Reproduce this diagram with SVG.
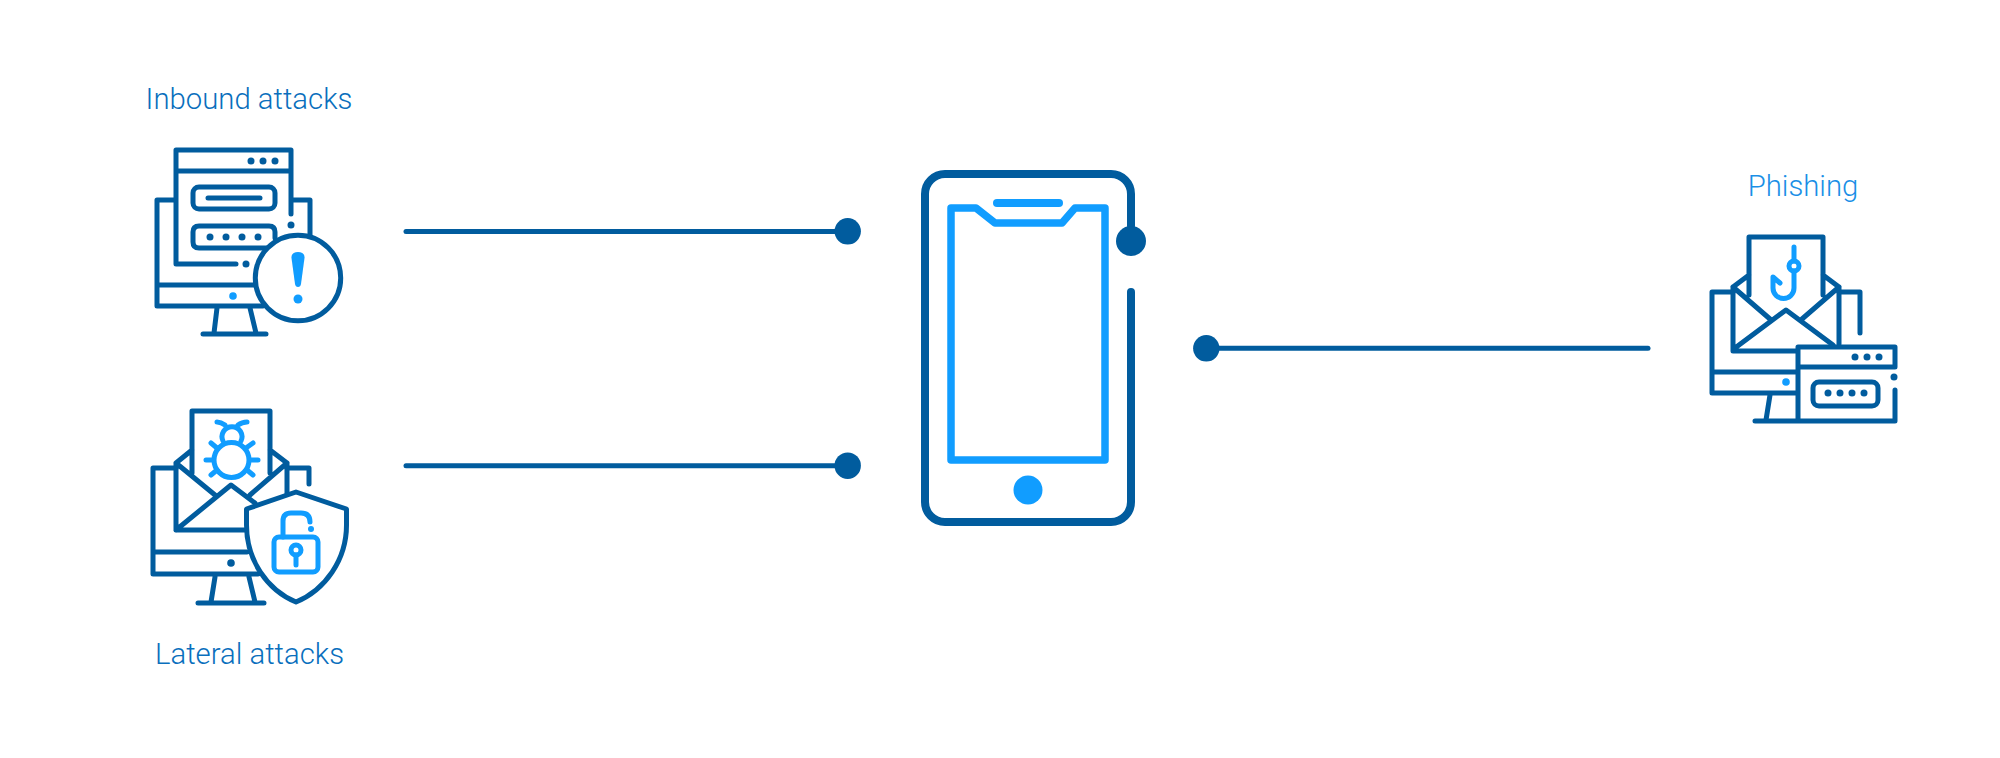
<svg xmlns="http://www.w3.org/2000/svg" width="2000" height="758" viewBox="0 0 2000 758">
<style>
.d{fill:none;stroke:#015c9e;stroke-width:5;stroke-linecap:round;stroke-linejoin:round}
.l{fill:none;stroke:#119dff;stroke-width:5;stroke-linecap:round;stroke-linejoin:round}
.df{fill:#015c9e}.lf{fill:#119dff}
text{font-family:Roboto,"Liberation Sans",sans-serif;font-weight:300;font-size:29.300px;text-anchor:middle}
.conn{fill:none;stroke:#015c9e;stroke-width:5;stroke-linecap:round}
</style>
<rect width="2000" height="758" fill="#fff"/>
<g id="connectors">
<path class="conn" d="M406 231.500H847"/><circle class="df" cx="847.700" cy="231.300" r="13.200"/>
<path class="conn" d="M406 465.700H847"/><circle class="df" cx="847.700" cy="465.700" r="13.200"/>
<path class="conn" d="M1207 348.300H1648"/><circle class="df" cx="1206.300" cy="348.300" r="13.200"/>
</g>
<g id="inbound">
<text x="249" y="109" fill="#0a6fbd">Inbound attacks</text>
<path class="d" d="M291 214V150H176V264H236M176 171H291M176 200H157V306H263M157 285H256M291 200H310V235M217 308L214 333M250 308L256 333M203 334H266"/>
<rect class="d" x="193" y="187" width="82" height="22" rx="6"/>
<path class="d" d="M208 198H260M270 248H199Q193 248 193 242V232Q193 226 199 226H269Q275 226 275 232V238"/>
<g class="df"><circle cx="251" cy="161" r="3.500"/><circle cx="263" cy="161" r="3.500"/><circle cx="275" cy="161" r="3.500"/><circle cx="291" cy="225" r="3.500"/><circle cx="246" cy="264" r="3.500"/><circle cx="210" cy="237" r="3.500"/><circle cx="226" cy="237" r="3.500"/><circle cx="242" cy="237" r="3.500"/><circle cx="258" cy="237" r="3.500"/></g>
<circle class="lf" cx="233" cy="296" r="3.800"/>
<circle cx="298" cy="278" r="42.700" fill="#fff" stroke="#015c9e" stroke-width="5"/>
<path class="lf" d="M298 252C302 252 305 254 304.500 258L301 284Q300.500 287 298 287Q295.500 287 295 284L291.500 258C291 254 294 252 298 252Z"/>
<circle class="lf" cx="298" cy="299" r="4.500"/>
</g>
<g id="lateral">
<text x="249.500" y="664" fill="#0a6fbd">Lateral attacks</text>
<path class="d" d="M176 468H153V574H258M153 552H247M287 468H309V484M215 577L211 602M249 577L255 602M198 603H264"/>
<path class="d" d="M192 473V411H270V473M192 450L176 463V530H245M270 450L287 463V495M176 463L215 495M287 463L250 495M176 530L231 485L255 503"/>
<circle class="df" cx="231" cy="563" r="3.800"/>
<path d="M296 492L346.500 509V525C346.500 560 325 590 296 602C267 590 246.500 560 246.500 525V509Z" fill="#fff" stroke="#015c9e" stroke-width="5" stroke-linejoin="round"/>
<circle class="l" cx="231.500" cy="460" r="17.500" stroke-width="4"/>
<path class="l" d="M223 441A10 10 0 1 1 241 441M217 422Q221 422 225 425M247 422Q242 422 238 425M211 443L217 448M253 443L246 448M206 460H213M258 460H251M211 475L217 470M253 475L247 470" stroke-width="3.500"/>
<rect class="l" x="274" y="537" width="44" height="35" rx="5"/>
<path class="l" d="M283 537V521Q283 513 291 513H301Q310 513 310 522" stroke-width="4.500"/>
<circle class="lf" cx="311" cy="529" r="3"/>
<circle class="l" cx="296" cy="550" r="5" stroke-width="4"/>
<path class="l" d="M296 555V565" stroke-width="4"/>
</g>
<g id="phone">
<path d="M1131 226V194A20 20 0 0 0 1111 174H945A20 20 0 0 0 925 194V502A20 20 0 0 0 945 522H1111A20 20 0 0 0 1131 502V292" fill="none" stroke="#015c9e" stroke-width="8" stroke-linecap="round" stroke-linejoin="round"/>
<circle class="df" cx="1131" cy="241" r="15"/>
<path d="M951 208H976L995 223H1062L1075 208H1105V460H951Z" fill="none" stroke="#119dff" stroke-width="7.500" stroke-linejoin="round"/>
<path d="M997 203H1059" fill="none" stroke="#119dff" stroke-width="8" stroke-linecap="round"/>
<circle class="lf" cx="1028" cy="490" r="14.500"/>
</g>
<g id="phishing">
<text x="1803" y="196" fill="#1a8fe6">Phishing</text>
<path class="d" d="M1733 292H1712V393H1796M1712 372H1796M1839 292H1860V333M1770 395L1766 420"/>
<path class="d" d="M1749 295V237H1823V295M1749 275L1733 287V351H1796M1823 275L1839 287V344M1733 287L1770 319M1839 287L1802 319M1735 348L1786 310L1833 345"/>
<circle class="lf" cx="1786" cy="382" r="3.800"/>
<path class="d" d="M1895 390V421H1755M1798 421V347H1895V367H1798"/>
<rect class="d" x="1813" y="382" width="65" height="24" rx="6"/>
<g class="df"><circle cx="1855" cy="357" r="3.500"/><circle cx="1867" cy="357" r="3.500"/><circle cx="1879" cy="357" r="3.500"/><circle cx="1894" cy="377" r="3.500"/><circle cx="1828" cy="393" r="3.500"/><circle cx="1840" cy="393" r="3.500"/><circle cx="1852" cy="393" r="3.500"/><circle cx="1864" cy="393" r="3.500"/></g>
<path class="l" d="M1794 247V261M1794 271V288A10.500 10.500 0 0 1 1773 288V277L1780 283" stroke-width="4"/>
<circle class="l" cx="1794" cy="266" r="5" stroke-width="4"/>
</g>
</svg>
